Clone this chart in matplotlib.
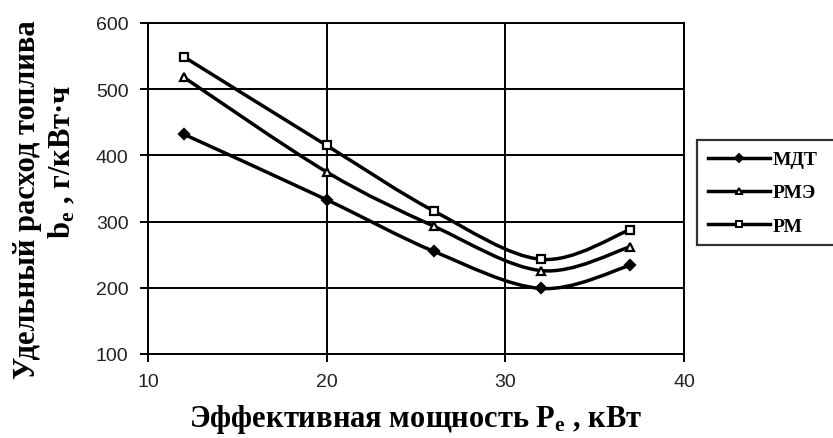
import numpy as np
import matplotlib
matplotlib.use("Agg")
import matplotlib.pyplot as plt
from matplotlib.path import Path
from matplotlib.patches import PathPatch
from matplotlib.lines import Line2D

plt.rcParams['mathtext.fontset'] = 'custom'
plt.rcParams['mathtext.rm'] = 'Liberation Serif:bold'
plt.rcParams['mathtext.it'] = 'Liberation Serif:bold'
plt.rcParams['mathtext.bf'] = 'Liberation Serif:bold'

# data
power = [12, 20, 26, 32, 37]
mdt = [432, 333, 255, 199, 234]
rme = [518, 375, 293, 226, 262]
rm = [549, 415, 316, 243, 288]
series_names = ["МДТ", "РМЭ", "РМ"]
x_ticks = [10, 20, 30, 40]
y_ticks = [100, 200, 300, 400, 500, 600]

fig = plt.figure(figsize=(8.33, 4.39), dpi=100)
ax = fig.add_axes([148/833, 1-355/439, (684-148)/833, (355-24)/439])


def smooth_path(xs, ys):
    """Excel-like smoothed line (Catmull-Rom as cubic Bezier)."""
    xs = np.asarray(xs, float)
    ys = np.asarray(ys, float)
    n = len(xs)
    verts = [(xs[0], ys[0])]
    codes = [Path.MOVETO]
    for i in range(n - 1):
        p0 = (xs[max(i - 1, 0)], ys[max(i - 1, 0)])
        p1 = (xs[i], ys[i])
        p2 = (xs[i + 1], ys[i + 1])
        p3 = (xs[min(i + 2, n - 1)], ys[min(i + 2, n - 1)])
        c1 = (p1[0] + (p2[0] - p0[0]) / 6, p1[1] + (p2[1] - p0[1]) / 6)
        c2 = (p2[0] - (p3[0] - p1[0]) / 6, p2[1] - (p3[1] - p1[1]) / 6)
        verts += [c1, c2, p2]
        codes += [Path.CURVE4] * 3
    return Path(verts, codes)


styles = [
    dict(marker='D', mfc='black', ms=5),
    dict(marker='^', mfc='white', ms=6),
    dict(marker='s', mfc='white', ms=6),
]
handles = []
for vals, name, st in zip([mdt, rme, rm], series_names, styles):
    ax.add_patch(PathPatch(smooth_path(power, vals), fill=False, edgecolor='black',
                           lw=2.5, zorder=3))
    ax.plot(power, vals, linestyle='none', marker=st['marker'], mfc=st['mfc'],
            mec='black', mew=1.6, ms=st['ms'], zorder=4)
    handles.append(Line2D([], [], color='black', lw=2.5, marker=st['marker'],
                          mfc=st['mfc'], mec='black', mew=1.4, ms=st['ms'] - 1))

ax.set_xlim(10, 40)
ax.set_ylim(100, 600)
ax.set_xticks(x_ticks)
ax.set_yticks(y_ticks)
ax.grid(True, color='black', lw=1.4)
ax.set_axisbelow(True)
for s in ax.spines.values():
    s.set_linewidth(1.4)
ax.tick_params(direction='out', length=6, width=1.4, labelsize=14, pad=8,
               labelcolor='#222222')
for lab in ax.get_xticklabels() + ax.get_yticklabels():
    lab.set_family('Liberation Sans')

ax.set_xlabel("Эффективная мощность P$_\\mathrm{e}$ , кВт", family='Liberation Serif',
              fontweight='bold', fontsize=22, labelpad=8)
fig.text(28/833, 1-200/439, "Удельный расход топлива", rotation=90,
         family='Liberation Serif', fontweight='bold', fontsize=22,
         ha='center', va='center')
fig.text(62/833, 1-162/439, "b$_\\mathrm{e}$ , г/кВт·ч", rotation=90,
         family='Liberation Serif', fontweight='bold', fontsize=22,
         ha='center', va='center')

leg = fig.legend(handles, series_names, loc='upper left',
                 bbox_to_anchor=(697/833, 1-245/439, 150/833, 104/439), mode='expand',
                 frameon=True, fancybox=False,
                 edgecolor='black', handlelength=3.2, handletextpad=0.15,
                 borderpad=0.55, labelspacing=0.8, borderaxespad=0,
                 prop=dict(family='Liberation Serif', weight='bold', size=14))
leg.get_frame().set_linewidth(1.6)

fig.savefig("out.png", dpi=100)
